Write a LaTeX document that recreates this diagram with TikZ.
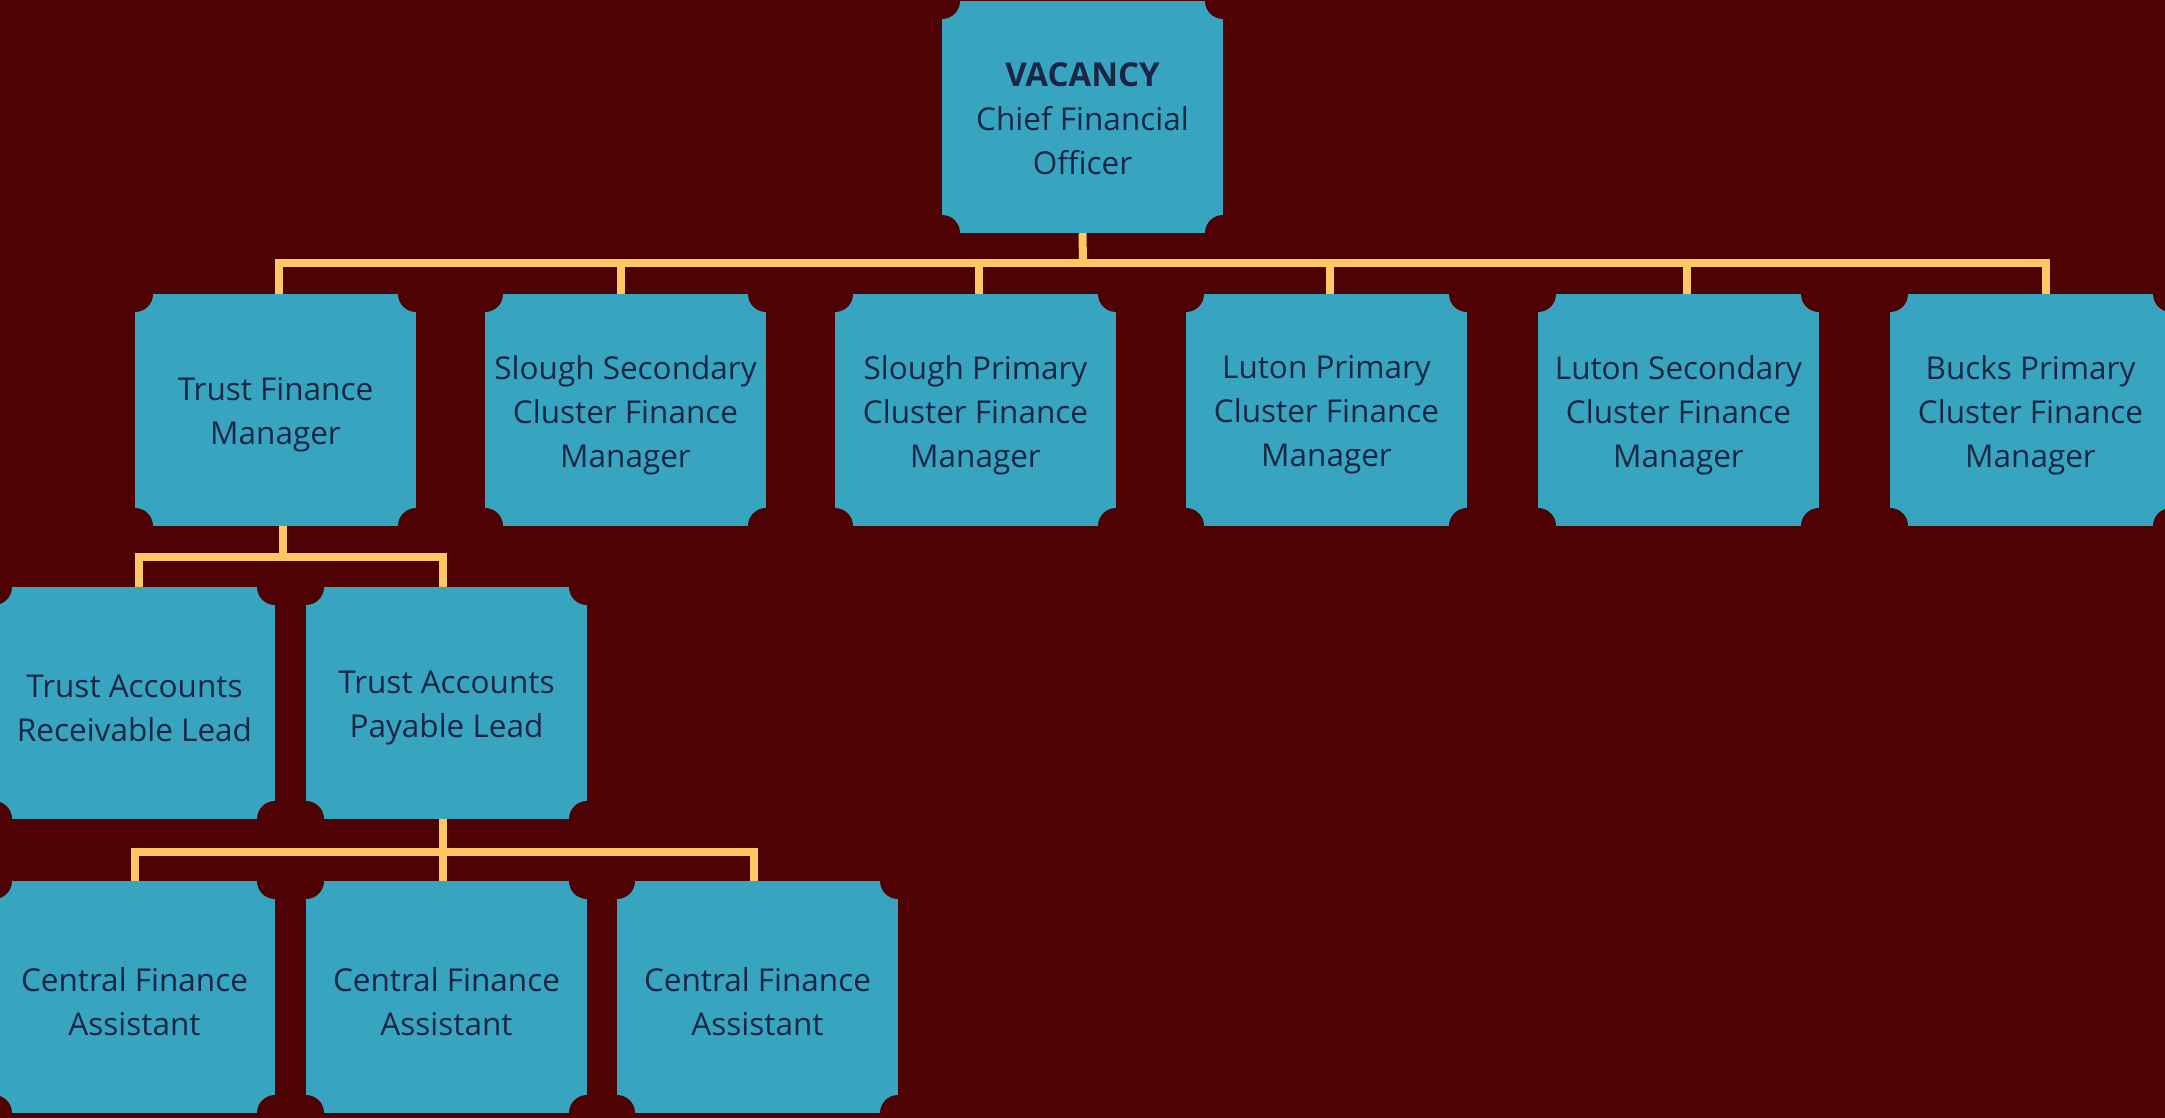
\documentclass[tikz,border=0pt]{standalone}
\usepackage{fontspec}
\setmainfont{Open Sans}
\usetikzlibrary{calc}
\definecolor{bgc}{HTML}{4F0204}
\definecolor{boxc}{HTML}{37A5BF}
\definecolor{txtc}{HTML}{1B2646}
\definecolor{connc}{HTML}{FFC862}
\begin{document}
\begin{tikzpicture}[x=1pt,y=-1pt,
  orgbox/.style={fill=boxc, minimum width=281pt, minimum height=232pt, inner sep=0pt,
    path picture={\foreach \c in {north west,north east,south west,south east}
      \fill[bgc] (path picture bounding box.\c) circle (18pt);}},
  lbl/.style={align=center, text=txtc, font=\fontsize{31.5}{44}\selectfont, inner sep=0pt},
  conn/.style={draw=connc, line width=8pt}]
\fill[bgc] (0,0) rectangle (2165,1118);
\useasboundingbox (0,0) rectangle (2165,1118);
% nodes
\node[orgbox] (cfo) at (1082.5,117) {};
\node[lbl] (cfol) at ([yshift=-2pt]cfo.center) {{\fontsize{33}{44}\selectfont\textbf{VACANCY}}\\Chief Financial\\Officer};
\node[orgbox] (tfm) at (275.5,410) {};
\node[lbl] (tfml) at ([yshift=-5pt]tfm.center) {Trust Finance\\Manager};
\node[orgbox] (ssc) at (625.5,410) {};
\node[lbl] (sscl) at ([yshift=-5pt]ssc.center) {Slough Secondary\\Cluster Finance\\Manager};
\node[orgbox] (spc) at (975.5,410) {};
\node[lbl] (spcl) at ([yshift=-5pt]spc.center) {Slough Primary\\Cluster Finance\\Manager};
\node[orgbox] (lpc) at (1326.5,410) {};
\node[lbl] (lpcl) at ([yshift=-5pt]lpc.center) {Luton Primary\\Cluster Finance\\Manager};
\node[orgbox] (lsc) at (1678.5,410) {};
\node[lbl] (lscl) at ([yshift=-5pt]lsc.center) {Luton Secondary\\Cluster Finance\\Manager};
\node[orgbox] (bpc) at (2030.5,410) {};
\node[lbl] (bpcl) at ([yshift=-5pt]bpc.center) {Bucks Primary\\Cluster Finance\\Manager};
\node[orgbox] (tar) at (134.5,703) {};
\node[lbl] (tarl) at ([yshift=-5pt]tar.center) {Trust Accounts\\Receivable Lead};
\node[orgbox] (tap) at (446.5,703) {};
\node[lbl] (tapl) at ([yshift=-5pt]tap.center) {Trust Accounts\\Payable Lead};
\node[orgbox] (cfa1) at (134.5,997) {};
\node[lbl] (cfa1l) at ([yshift=-5pt]cfa1.center) {Central Finance\\Assistant};
\node[orgbox] (cfa2) at (446.5,997) {};
\node[lbl] (cfa2l) at ([yshift=-5pt]cfa2.center) {Central Finance\\Assistant};
\node[orgbox] (cfa3) at (757.5,997) {};
\node[lbl] (cfa3l) at ([yshift=-5pt]cfa3.center) {Central Finance\\Assistant};
% connectors level 1
\coordinate (b1) at (1083,263);
\draw[conn] (cfo.south) -- (b1);
\draw[conn] ($(tfm.north)+(3.5,0)$) |- (b1);
\draw[conn] ($(ssc.north)+(-4.5,0)$) |- (b1);
\draw[conn] ($(spc.north)+(3.5,0)$) |- (b1);
\draw[conn] ($(lpc.north)+(3.5,0)$) |- (b1);
\draw[conn] ($(lsc.north)+(8.5,0)$) |- (b1);
\draw[conn] ($(bpc.north)+(15.5,0)$) |- (b1);
% connectors level 2
\coordinate (b2) at (283,557);
\draw[conn] ($(tfm.south)+(7.5,0)$) -- (b2);
\draw[conn] ($(tar.north)+(4.5,0)$) |- (b2);
\draw[conn] ($(tap.north)+(-3.5,0)$) |- (b2);
% connectors level 3
\coordinate (b3) at (443,852);
\draw[conn] ($(tap.south)+(-3.5,0)$) -- (b3);
\draw[conn] ($(cfa1.north)+(0.5,0)$) |- (b3);
\draw[conn] ($(cfa2.north)+(-3.5,0)$) |- (b3);
\draw[conn] ($(cfa3.north)+(-3.5,0)$) |- (b3);
\end{tikzpicture}
\end{document}
